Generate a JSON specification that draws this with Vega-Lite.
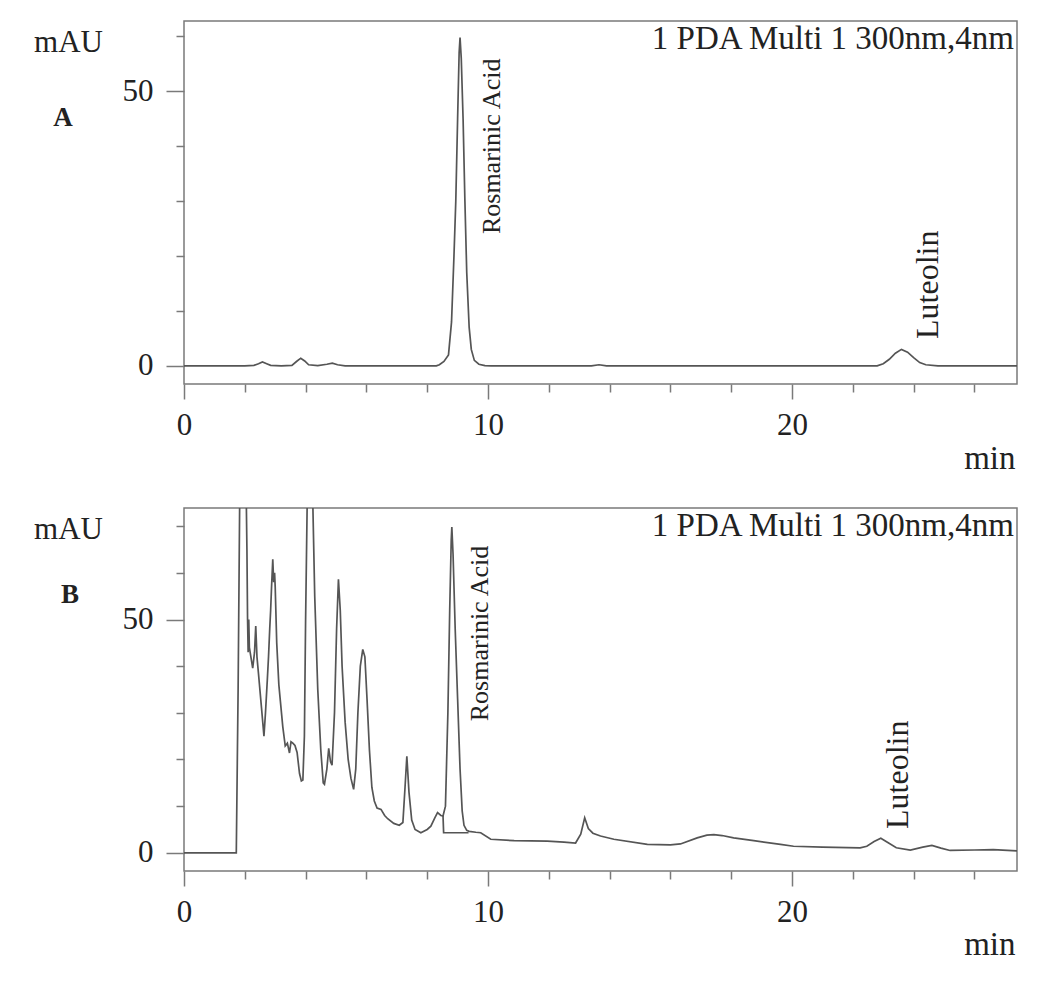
{
  "$schema": "https://vega.github.io/schema/vega-lite/v6.json",
  "background": "white",
  "padding": {"left": 32, "top": 19, "right": 5, "bottom": 5},
  "bounds": "flush",
  "spacing": 124,
  "config": {
    "font": "Liberation Serif",
    "view": {"stroke": "#7a7a7a", "strokeWidth": 1.5},
    "axis": {
      "labelFont": "Liberation Serif", "labelFontSize": 31, "labelColor": "#222222",
      "tickColor": "#7a7a7a", "tickWidth": 1.5, "domain": false, "grid": false,
      "titleFont": "Liberation Serif", "titleFontSize": 31, "titleFontWeight": "normal", "titleColor": "#222222",
      "labelFlush": false, "labelOverlap": false
    }
  },
  "datasets": {
    "traceA": [
      {"t": 0, "mAU": 0}, {"t": 2.0, "mAU": 0}, {"t": 2.3, "mAU": 0.1}, {"t": 2.45, "mAU": 0.4}, {"t": 2.58, "mAU": 0.7},
      {"t": 2.72, "mAU": 0.4}, {"t": 2.85, "mAU": 0.1}, {"t": 3.2, "mAU": 0}, {"t": 3.55, "mAU": 0.1}, {"t": 3.7, "mAU": 0.8},
      {"t": 3.84, "mAU": 1.4}, {"t": 3.97, "mAU": 0.9}, {"t": 4.1, "mAU": 0.2}, {"t": 4.4, "mAU": 0.05}, {"t": 4.7, "mAU": 0.3},
      {"t": 4.88, "mAU": 0.5}, {"t": 5.05, "mAU": 0.2}, {"t": 5.3, "mAU": 0}, {"t": 8.3, "mAU": 0}, {"t": 8.4, "mAU": 0.2},
      {"t": 8.55, "mAU": 0.8}, {"t": 8.7, "mAU": 2}, {"t": 8.8, "mAU": 8}, {"t": 8.88, "mAU": 20}, {"t": 8.94, "mAU": 30},
      {"t": 9.0, "mAU": 45}, {"t": 9.05, "mAU": 57}, {"t": 9.08, "mAU": 59.8}, {"t": 9.12, "mAU": 56}, {"t": 9.18, "mAU": 45},
      {"t": 9.24, "mAU": 30}, {"t": 9.3, "mAU": 17}, {"t": 9.38, "mAU": 7}, {"t": 9.45, "mAU": 3}, {"t": 9.55, "mAU": 1},
      {"t": 9.7, "mAU": 0.3}, {"t": 9.9, "mAU": 0.05}, {"t": 10.1, "mAU": 0}, {"t": 13.4, "mAU": 0}, {"t": 13.65, "mAU": 0.2},
      {"t": 13.9, "mAU": 0}, {"t": 22.8, "mAU": 0}, {"t": 23.0, "mAU": 0.4}, {"t": 23.2, "mAU": 1.2}, {"t": 23.4, "mAU": 2.3},
      {"t": 23.6, "mAU": 3.0}, {"t": 23.8, "mAU": 2.5}, {"t": 24.0, "mAU": 1.5}, {"t": 24.2, "mAU": 0.6}, {"t": 24.4, "mAU": 0.2},
      {"t": 24.8, "mAU": 0}, {"t": 27.4, "mAU": 0}
    ],
    "traceB": [
      {"seg": "trace", "t": 0, "mAU": 0}, {"seg": "trace", "t": 1.72, "mAU": 0}, {"seg": "trace", "t": 1.78, "mAU": 35},
      {"seg": "trace", "t": 1.83, "mAU": 74}, {"seg": "trace", "t": 1.9, "mAU": 110}, {"seg": "trace", "t": 1.97, "mAU": 120},
      {"seg": "trace", "t": 2.03, "mAU": 85}, {"seg": "trace", "t": 2.07, "mAU": 65}, {"seg": "trace", "t": 2.09, "mAU": 50.4},
      {"seg": "trace", "t": 2.11, "mAU": 43}, {"seg": "trace", "t": 2.13, "mAU": 50}, {"seg": "trace", "t": 2.15, "mAU": 44},
      {"seg": "trace", "t": 2.2, "mAU": 42}, {"seg": "trace", "t": 2.26, "mAU": 39.6}, {"seg": "trace", "t": 2.32, "mAU": 43},
      {"seg": "trace", "t": 2.36, "mAU": 48.6}, {"seg": "trace", "t": 2.4, "mAU": 42}, {"seg": "trace", "t": 2.45, "mAU": 38.4},
      {"seg": "trace", "t": 2.55, "mAU": 31}, {"seg": "trace", "t": 2.63, "mAU": 25}, {"seg": "trace", "t": 2.68, "mAU": 30},
      {"seg": "trace", "t": 2.74, "mAU": 37}, {"seg": "trace", "t": 2.78, "mAU": 42}, {"seg": "trace", "t": 2.82, "mAU": 48},
      {"seg": "trace", "t": 2.85, "mAU": 52}, {"seg": "trace", "t": 2.88, "mAU": 57}, {"seg": "trace", "t": 2.92, "mAU": 62.9},
      {"seg": "trace", "t": 2.95, "mAU": 58}, {"seg": "trace", "t": 2.98, "mAU": 60}, {"seg": "trace", "t": 3.0, "mAU": 57},
      {"seg": "trace", "t": 3.05, "mAU": 45}, {"seg": "trace", "t": 3.12, "mAU": 36}, {"seg": "trace", "t": 3.17, "mAU": 32.5},
      {"seg": "trace", "t": 3.25, "mAU": 27}, {"seg": "trace", "t": 3.33, "mAU": 22.9}, {"seg": "trace", "t": 3.4, "mAU": 23.5},
      {"seg": "trace", "t": 3.47, "mAU": 21.4}, {"seg": "trace", "t": 3.52, "mAU": 23.8}, {"seg": "trace", "t": 3.58, "mAU": 23.5},
      {"seg": "trace", "t": 3.65, "mAU": 23}, {"seg": "trace", "t": 3.72, "mAU": 21.5}, {"seg": "trace", "t": 3.8, "mAU": 17},
      {"seg": "trace", "t": 3.86, "mAU": 15.4}, {"seg": "trace", "t": 3.91, "mAU": 15.6}, {"seg": "trace", "t": 3.96, "mAU": 25},
      {"seg": "trace", "t": 4.0, "mAU": 50}, {"seg": "trace", "t": 4.05, "mAU": 74}, {"seg": "trace", "t": 4.12, "mAU": 110},
      {"seg": "trace", "t": 4.2, "mAU": 95}, {"seg": "trace", "t": 4.24, "mAU": 74}, {"seg": "trace", "t": 4.3, "mAU": 55},
      {"seg": "trace", "t": 4.4, "mAU": 35}, {"seg": "trace", "t": 4.5, "mAU": 22}, {"seg": "trace", "t": 4.58, "mAU": 15},
      {"seg": "trace", "t": 4.62, "mAU": 14.7}, {"seg": "trace", "t": 4.7, "mAU": 18}, {"seg": "trace", "t": 4.76, "mAU": 22.4},
      {"seg": "trace", "t": 4.82, "mAU": 19.5}, {"seg": "trace", "t": 4.87, "mAU": 18.8}, {"seg": "trace", "t": 4.95, "mAU": 30},
      {"seg": "trace", "t": 5.02, "mAU": 48}, {"seg": "trace", "t": 5.08, "mAU": 58.6}, {"seg": "trace", "t": 5.14, "mAU": 52},
      {"seg": "trace", "t": 5.2, "mAU": 40}, {"seg": "trace", "t": 5.3, "mAU": 28}, {"seg": "trace", "t": 5.4, "mAU": 20},
      {"seg": "trace", "t": 5.49, "mAU": 16}, {"seg": "trace", "t": 5.58, "mAU": 13.6}, {"seg": "trace", "t": 5.65, "mAU": 18},
      {"seg": "trace", "t": 5.72, "mAU": 30}, {"seg": "trace", "t": 5.8, "mAU": 40}, {"seg": "trace", "t": 5.88, "mAU": 43.6},
      {"seg": "trace", "t": 5.95, "mAU": 42}, {"seg": "trace", "t": 6.02, "mAU": 33}, {"seg": "trace", "t": 6.1, "mAU": 22},
      {"seg": "trace", "t": 6.18, "mAU": 14}, {"seg": "trace", "t": 6.26, "mAU": 11.1}, {"seg": "trace", "t": 6.35, "mAU": 9.6},
      {"seg": "trace", "t": 6.48, "mAU": 9.3}, {"seg": "trace", "t": 6.6, "mAU": 8}, {"seg": "trace", "t": 6.7, "mAU": 7.3},
      {"seg": "trace", "t": 6.9, "mAU": 6.3}, {"seg": "trace", "t": 7.08, "mAU": 5.9}, {"seg": "trace", "t": 7.2, "mAU": 6.5},
      {"seg": "trace", "t": 7.27, "mAU": 14}, {"seg": "trace", "t": 7.33, "mAU": 20.7}, {"seg": "trace", "t": 7.4, "mAU": 13},
      {"seg": "trace", "t": 7.49, "mAU": 7}, {"seg": "trace", "t": 7.6, "mAU": 5}, {"seg": "trace", "t": 7.79, "mAU": 4.3},
      {"seg": "trace", "t": 8.0, "mAU": 5}, {"seg": "trace", "t": 8.12, "mAU": 5.7}, {"seg": "trace", "t": 8.25, "mAU": 7.5},
      {"seg": "trace", "t": 8.34, "mAU": 8.6}, {"seg": "trace", "t": 8.45, "mAU": 8.0}, {"seg": "trace", "t": 8.52, "mAU": 7.9},
      {"seg": "trace", "t": 8.6, "mAU": 10}, {"seg": "trace", "t": 8.68, "mAU": 30}, {"seg": "trace", "t": 8.74, "mAU": 52},
      {"seg": "trace", "t": 8.79, "mAU": 67}, {"seg": "trace", "t": 8.81, "mAU": 69.8}, {"seg": "trace", "t": 8.85, "mAU": 64},
      {"seg": "trace", "t": 8.92, "mAU": 48}, {"seg": "trace", "t": 9.0, "mAU": 33}, {"seg": "trace", "t": 9.08, "mAU": 18},
      {"seg": "trace", "t": 9.15, "mAU": 9}, {"seg": "trace", "t": 9.21, "mAU": 5.9}, {"seg": "trace", "t": 9.3, "mAU": 4.8},
      {"seg": "trace", "t": 9.38, "mAU": 4.6}, {"seg": "trace", "t": 9.6, "mAU": 4.4}, {"seg": "trace", "t": 9.76, "mAU": 4.3},
      {"seg": "trace", "t": 10.09, "mAU": 2.9}, {"seg": "trace", "t": 10.86, "mAU": 2.6}, {"seg": "trace", "t": 11.95, "mAU": 2.5},
      {"seg": "trace", "t": 12.5, "mAU": 2.3}, {"seg": "trace", "t": 12.88, "mAU": 2.1}, {"seg": "trace", "t": 13.05, "mAU": 4},
      {"seg": "trace", "t": 13.18, "mAU": 7.5}, {"seg": "trace", "t": 13.3, "mAU": 5.2}, {"seg": "trace", "t": 13.45, "mAU": 4.2},
      {"seg": "trace", "t": 13.7, "mAU": 3.6}, {"seg": "trace", "t": 14.14, "mAU": 2.9}, {"seg": "trace", "t": 15.24, "mAU": 1.8},
      {"seg": "trace", "t": 16.0, "mAU": 1.7}, {"seg": "trace", "t": 16.33, "mAU": 1.9}, {"seg": "trace", "t": 16.88, "mAU": 3.2},
      {"seg": "trace", "t": 17.2, "mAU": 3.8}, {"seg": "trace", "t": 17.43, "mAU": 3.9}, {"seg": "trace", "t": 17.7, "mAU": 3.7},
      {"seg": "trace", "t": 18.08, "mAU": 3.2}, {"seg": "trace", "t": 18.74, "mAU": 2.6}, {"seg": "trace", "t": 19.62, "mAU": 1.8},
      {"seg": "trace", "t": 20.05, "mAU": 1.4}, {"seg": "trace", "t": 21.0, "mAU": 1.2}, {"seg": "trace", "t": 22.24, "mAU": 1.07},
      {"seg": "trace", "t": 22.46, "mAU": 1.4}, {"seg": "trace", "t": 22.7, "mAU": 2.4}, {"seg": "trace", "t": 22.92, "mAU": 3.1},
      {"seg": "trace", "t": 23.15, "mAU": 2.2}, {"seg": "trace", "t": 23.43, "mAU": 1.07}, {"seg": "trace", "t": 23.89, "mAU": 0.57},
      {"seg": "trace", "t": 24.3, "mAU": 1.2}, {"seg": "trace", "t": 24.6, "mAU": 1.57}, {"seg": "trace", "t": 24.9, "mAU": 1.0},
      {"seg": "trace", "t": 25.2, "mAU": 0.5}, {"seg": "trace", "t": 26.0, "mAU": 0.6}, {"seg": "trace", "t": 26.62, "mAU": 0.7},
      {"seg": "trace", "t": 27.4, "mAU": 0.4},
      {"seg": "drop", "t": 8.52, "mAU": 7.9}, {"seg": "drop", "t": 8.54, "mAU": 4.3}, {"seg": "drop", "t": 9.36, "mAU": 4.3}
    ],
    "labelsA": [
      {"label": "Rosmarinic Acid", "t": 10.4, "mAU": 24.0},
      {"label": "Luteolin", "t": 24.8, "mAU": 4.9}
    ],
    "labelsB": [
      {"label": "Rosmarinic Acid", "t": 10.0, "mAU": 28.2},
      {"label": "Luteolin", "t": 23.8, "mAU": 5.1}
    ],
    "noteA": [{"label": "1 PDA Multi 1 300nm,4nm", "t": 27.3, "mAU": 57.7}],
    "noteB": [{"label": "1 PDA Multi 1 300nm,4nm", "t": 27.3, "mAU": 67.9}]
  },
  "vconcat": [
    {
      "width": 833,
      "height": 363,
      "title": {"text": "A", "anchor": "start", "frame": "group", "orient": "top", "offset": 0, "dx": -121, "dy": 133, "align": "center", "baseline": "alphabetic", "font": "Liberation Serif", "fontSize": 27, "fontWeight": "bold", "color": "#222222"},
      "layer": [
        {
          "data": {"name": "traceA"},
          "mark": {"type": "line", "color": "#555555", "strokeWidth": 1.7, "clip": true},
          "encoding": {
            "x": {"field": "t", "type": "quantitative", "scale": {"domain": [0, 27.4], "nice": false, "zero": false},
              "axis": {"values": [0, 2, 4, 6, 8, 10, 12, 14, 16, 18, 20, 22, 24, 26], "labelExpr": "datum.value % 10 === 0 ? datum.label : ''",
                "tickSize": {"condition": {"test": "datum.value % 10 === 0", "value": 15}, "value": 8}, "labelPadding": 11,
                "title": "min", "titleX": 831, "titleY": 84, "titleAlign": "right", "titleBaseline": "alphabetic", "titleFontSize": 33}},
            "y": {"field": "mAU", "type": "quantitative", "scale": {"domain": [-3.3, 62.8], "nice": false, "zero": false},
              "axis": {"values": [0, 5, 10, 15, 20, 25, 30, 35, 40, 45, 50, 55, 60], "labelExpr": "datum.value % 25 === 0 ? datum.label : ''",
                "tickSize": {"condition": {"test": "datum.value % 25 === 0", "value": 18}, "value": 8}, "labelPadding": 13,
                "title": "mAU", "titleAngle": 0, "titleX": -116, "titleY": 30, "titleAlign": "center", "titleBaseline": "alphabetic"}}
          }
        },
        {
          "data": {"name": "labelsA"},
          "transform": [{"filter": "datum.label === 'Rosmarinic Acid'"}],
          "mark": {"type": "text", "angle": 270, "align": "left", "baseline": "alphabetic", "font": "Liberation Serif", "fontSize": 26, "color": "#222222"},
          "encoding": {"x": {"field": "t", "type": "quantitative"}, "y": {"field": "mAU", "type": "quantitative"}, "text": {"field": "label"}}
        },
        {
          "data": {"name": "labelsA"},
          "transform": [{"filter": "datum.label === 'Luteolin'"}],
          "mark": {"type": "text", "angle": 270, "align": "left", "baseline": "alphabetic", "font": "Liberation Serif", "fontSize": 32, "color": "#222222"},
          "encoding": {"x": {"field": "t", "type": "quantitative"}, "y": {"field": "mAU", "type": "quantitative"}, "text": {"field": "label"}}
        },
        {
          "data": {"name": "noteA"},
          "mark": {"type": "text", "align": "right", "baseline": "alphabetic", "font": "Liberation Serif", "fontSize": 33, "color": "#222222"},
          "encoding": {"x": {"field": "t", "type": "quantitative"}, "y": {"field": "mAU", "type": "quantitative"}, "text": {"field": "label"}}
        }
      ]
    },
    {
      "width": 833,
      "height": 363,
      "title": {"text": "B", "anchor": "start", "frame": "group", "orient": "top", "offset": 0, "dx": -114, "dy": 122, "align": "center", "baseline": "alphabetic", "font": "Liberation Serif", "fontSize": 27, "fontWeight": "bold", "color": "#222222"},
      "layer": [
        {
          "data": {"name": "traceB"},
          "mark": {"type": "line", "color": "#555555", "strokeWidth": 1.7, "clip": true},
          "encoding": {
            "x": {"field": "t", "type": "quantitative", "scale": {"domain": [0, 27.4], "nice": false, "zero": false},
              "axis": {"values": [0, 2, 4, 6, 8, 10, 12, 14, 16, 18, 20, 22, 24, 26], "labelExpr": "datum.value % 10 === 0 ? datum.label : ''",
                "tickSize": {"condition": {"test": "datum.value % 10 === 0", "value": 15}, "value": 8}, "labelPadding": 11,
                "title": "min", "titleX": 831, "titleY": 83, "titleAlign": "right", "titleBaseline": "alphabetic", "titleFontSize": 33}},
            "y": {"field": "mAU", "type": "quantitative", "scale": {"domain": [-3.9, 73.9], "nice": false, "zero": false},
              "axis": {"values": [0, 5, 10, 15, 20, 25, 30, 35, 40, 45, 50, 55, 60, 65, 70], "labelExpr": "datum.value % 25 === 0 ? datum.label : ''",
                "tickSize": {"condition": {"test": "datum.value % 25 === 0", "value": 18}, "value": 8}, "labelPadding": 13,
                "title": "mAU", "titleAngle": 0, "titleX": -116, "titleY": 30, "titleAlign": "center", "titleBaseline": "alphabetic"}},
            "detail": {"field": "seg"}
          }
        },
        {
          "data": {"name": "labelsB"},
          "transform": [{"filter": "datum.label === 'Rosmarinic Acid'"}],
          "mark": {"type": "text", "angle": 270, "align": "left", "baseline": "alphabetic", "font": "Liberation Serif", "fontSize": 26, "color": "#222222"},
          "encoding": {"x": {"field": "t", "type": "quantitative"}, "y": {"field": "mAU", "type": "quantitative"}, "text": {"field": "label"}}
        },
        {
          "data": {"name": "labelsB"},
          "transform": [{"filter": "datum.label === 'Luteolin'"}],
          "mark": {"type": "text", "angle": 270, "align": "left", "baseline": "alphabetic", "font": "Liberation Serif", "fontSize": 32, "color": "#222222"},
          "encoding": {"x": {"field": "t", "type": "quantitative"}, "y": {"field": "mAU", "type": "quantitative"}, "text": {"field": "label"}}
        },
        {
          "data": {"name": "noteB"},
          "mark": {"type": "text", "align": "right", "baseline": "alphabetic", "font": "Liberation Serif", "fontSize": 33, "color": "#222222"},
          "encoding": {"x": {"field": "t", "type": "quantitative"}, "y": {"field": "mAU", "type": "quantitative"}, "text": {"field": "label"}}
        }
      ]
    }
  ]
}
